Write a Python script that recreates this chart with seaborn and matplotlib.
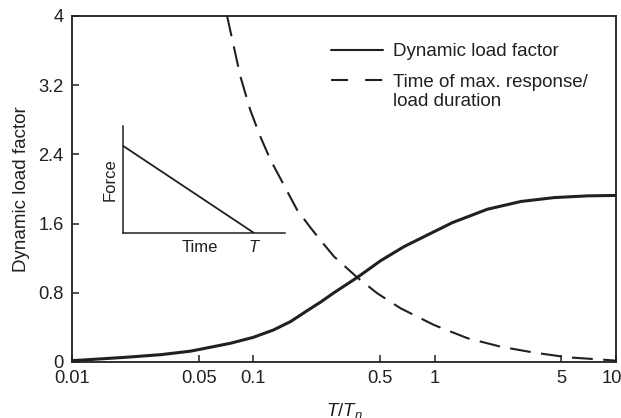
import numpy as np
import pandas as pd
import matplotlib
matplotlib.use('Agg')
import matplotlib.pyplot as plt
import matplotlib.transforms as mtransforms
import seaborn as sns

# values
ratio_dlf = [0.01, 0.013, 0.02, 0.031, 0.045, 0.0578, 0.0746, 0.1, 0.129, 0.16,
             0.198, 0.234, 0.278, 0.374, 0.503, 0.677, 0.912, 1.25, 1.95,
             2.99, 4.56, 6.98, 10.0]
dlf = [0.015, 0.03, 0.055, 0.085, 0.125, 0.17, 0.216, 0.285, 0.37, 0.466,
       0.593, 0.69, 0.80, 0.977, 1.17, 1.333, 1.468, 1.61, 1.765,
       1.855, 1.90, 1.92, 1.925]

ratio_tmax = [0.0716, 0.0848, 0.0962, 0.109, 0.124, 0.141, 0.174, 0.207, 0.234,
              0.278, 0.374, 0.482, 0.649, 0.99, 1.52, 2.31, 3.54, 5.41, 9.0, 10.0]
tmax = [4.0, 3.30, 2.91, 2.61, 2.34, 2.12, 1.76, 1.55, 1.41,
        1.22, 0.977, 0.794, 0.62, 0.428, 0.274, 0.177, 0.108, 0.054, 0.023, 0.015]

x_ticks = [0.01, 0.05, 0.1, 0.5, 1, 5, 10]
x_tick_labels = ['0.01', '0.05', '0.1', '0.5', '1', '5', '10']
y_ticks = [0, 0.8, 1.6, 2.4, 3.2, 4]
y_tick_labels = ['0', '0.8', '1.6', '2.4', '3.2', '4']

# inset pulse: force drops linearly to zero at T
pulse_time = [0, 1]
pulse_force = [1, 0]

ink = '#231f20'
sns.set_theme(style='ticks')
plt.rcParams['font.family'] = ['Liberation Sans', 'DejaVu Sans']
plt.rcParams['mathtext.fontset'] = 'custom'
plt.rcParams['mathtext.rm'] = 'Liberation Sans'
plt.rcParams['mathtext.it'] = 'Liberation Sans:italic'
plt.rcParams['text.color'] = ink
plt.rcParams['axes.labelcolor'] = ink
plt.rcParams['xtick.color'] = ink
plt.rcParams['ytick.color'] = ink

df_dlf = pd.DataFrame({'ratio': ratio_dlf, 'value': dlf})
df_tmax = pd.DataFrame({'ratio': ratio_tmax, 'value': tmax})

fig = plt.figure(figsize=(6.21, 4.18), dpi=100)
ax = fig.add_axes([0.116, 0.134, 0.876, 0.828])

sns.lineplot(data=df_dlf, x='ratio', y='value', ax=ax, color=ink, lw=2.2,
             label='Dynamic load factor')
sns.lineplot(data=df_tmax, x='ratio', y='value', ax=ax, color=ink, lw=1.5,
             label='Time of max. response/')
ax.lines[1].set_dashes([10, 5])

ax.set_xscale('log')
ax.set_xlim(0.01, 10)
ax.set_ylim(0, 4)
ax.set_xticks(x_ticks)
ax.set_xticklabels(x_tick_labels)
ax.minorticks_off()
ax.set_yticks(y_ticks)
ax.set_yticklabels(y_tick_labels)
ax.tick_params(direction='in', length=5, width=1.1, labelsize=13.2, pad=6)
# nudge the last x label so it stays inside the figure
last = ax.get_xticklabels()[-1]
last.set_transform(last.get_transform() +
                   mtransforms.ScaledTranslation(-3 / 72, 0, fig.dpi_scale_trans))
for sp in ax.spines.values():
    sp.set_linewidth(1.3)
    sp.set_color(ink)

ax.set_xlabel('$T/T_n$', fontsize=13.5, labelpad=10)
ax.set_ylabel('Dynamic load factor', fontsize=13.5, labelpad=6)

handles, labels = ax.get_legend_handles_labels()
leg = ax.legend(handles, labels, loc='upper left', bbox_to_anchor=(0.445, 0.97),
                frameon=False, fontsize=13.5, handlelength=2.8, handletextpad=0.5,
                labelspacing=0.7)
leg.get_lines()[0].set_linewidth(1.5)
leg.get_lines()[1].set_dashes([8.2, 8.2])
ax.annotate('load duration', xy=(0, 0), xycoords=leg.get_texts()[1],
            xytext=(0, -2), textcoords='offset points', va='top', ha='left',
            fontsize=13.5, zorder=10)

# inset sketch of the load pulse
ins = ax.inset_axes([0.094, 0.373, 0.298, 0.309])
ins.plot(pulse_time, pulse_force, color=ink, lw=1.3)
ins.set_xlim(0, 1.24)
ins.set_ylim(0, 1.23)
ins.set_facecolor('none')
for side in ['top', 'right']:
    ins.spines[side].set_visible(False)
for side in ['left', 'bottom']:
    ins.spines[side].set_linewidth(1.1)
    ins.spines[side].set_color(ink)
ins.set_yticks([])
ins.set_xticks([0.59, 1.0])
ins.set_xticklabels(['Time', 'T'])
ins.get_xticklabels()[1].set_fontstyle('italic')
ins.tick_params(axis='x', length=0, labelsize=12, pad=5)
ins.set_ylabel('Force', fontsize=12, labelpad=4)

fig.savefig('out.png', dpi=100)
